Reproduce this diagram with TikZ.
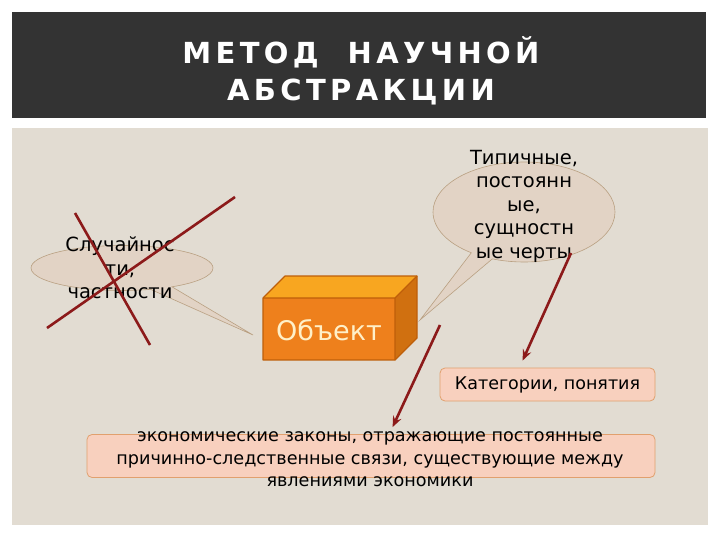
\documentclass[tikz,border=0pt]{standalone}
\usepackage{fontspec}
\setmainfont{DejaVu Sans}
\newfontfamily\titlefont{DejaVu Sans}[LetterSpace=15]
\usepackage{tikz}
\usetikzlibrary{arrows.meta,shapes.callouts,calc}
\definecolor{headgray}{RGB}{51,51,51}
\definecolor{panelbeige}{RGB}{226,220,210}
\definecolor{bubblefill}{RGB}{226,211,197}
\definecolor{bubbleline}{RGB}{185,160,130}
\definecolor{crossred}{RGB}{140,26,26}
\definecolor{boxfront}{RGB}{238,128,28}
\definecolor{boxtop}{RGB}{248,166,32}
\definecolor{boxside}{RGB}{208,112,16}
\definecolor{boxline}{RGB}{190,95,10}
\definecolor{objtext}{RGB}{255,240,200}
\definecolor{notefill}{RGB}{248,208,190}
\definecolor{noteline}{RGB}{225,160,110}
\tikzset{
  headbox/.style={
    fill=headgray,
    text=white,
    align=center,
    inner sep=0pt,
    font=\titlefont\bfseries\fontsize{29}{36.5}\selectfont
  },
  bubble/.style={
    ellipse callout,
    draw=bubbleline,
    fill=bubblefill,
    line width=0.6pt,
    inner sep=0pt
  },
  bubbletext/.style={
    align=center,
    inner sep=0pt,
    font=\fontsize{19.5}{23.5}\selectfont
  },
  notebox/.style={
    draw=noteline,
    fill=notefill,
    rounded corners=5pt,
    line width=0.8pt,
    inner sep=0pt
  },
  redarrow/.style={
    -{Stealth[length=11pt,width=9pt,inset=4pt]},
    line width=2.6pt,
    draw=crossred
  },
  strike/.style={
    line width=2.6pt,
    draw=crossred
  },
  facedraw/.style={
    draw=boxline,
    line width=1.2pt,
    line join=round
  }
}

\begin{document}
\begin{tikzpicture}[x=1pt,y=-1pt]
  \useasboundingbox (0,0) rectangle (720,540);
  \node[headbox, minimum width=694pt, minimum height=106pt] (head) at (359,65) {};
  \node[headbox, fill=none] (title) at (361,71) {МЕТОД\ \ НАУЧНОЙ\\АБСТРАКЦИИ};
  \node[fill=panelbeige, minimum width=696pt, minimum height=397pt, inner sep=0pt] (panel) at (360,326.5) {};

  \node[bubble, minimum width=182pt, minimum height=45pt, callout absolute pointer={(253,335)}] (chance) at (122,268) {};
  \node[bubbletext] (chancetext) at (120,268) {Случайнос\\ти,\\частности};
  \node[bubble, minimum width=182pt, minimum height=100pt, callout absolute pointer={(420,320)}] (typical) at (524,212) {};
  \node[bubbletext] (typicaltext) at (524,206) {Типичные,\\постоянн\\ые,\\сущностн\\ые черты};

  \draw[strike] (235,197) -- (47,328);
  \draw[strike] (75,213) -- (150,345);

  \fill[boxtop] (263,298) -- (285,276) -- (417,276) -- (395,298) -- cycle;
  \fill[boxside] (395,298) -- (417,276) -- (417,338) -- (395,360) -- cycle;
  \fill[boxfront] (263,298) rectangle (395,360);
  \draw[facedraw] (263,298) -- (285,276) -- (417,276) -- (417,338) -- (395,360) -- (263,360) -- cycle;
  \draw[facedraw] (263,298) -- (395,298) -- (417,276) (395,298) -- (395,360);
  \node[text=objtext, font=\fontsize{27}{30}\selectfont] (obj) at (329,330) {Объект};

  \node[notebox, minimum width=215pt, minimum height=33pt, font=\fontsize{17.5}{19}\selectfont] (cat) at (547.5,384.5) {Категории, понятия};
  \node[notebox, minimum width=568pt, minimum height=43pt] (laws) at (371,456) {};
  \node[align=center, inner sep=0pt, font=\fontsize{17.6}{22.5}\selectfont] (lawstext) at (370,459.5) {экономические законы, отражающие постоянные\\причинно-следственные связи, существующие между\\явлениями экономики};

  \coordinate (a1) at (571,253);
  \coordinate (a2) at (440,325);
  \draw[redarrow] (a1) -- ($(cat.north west)+(83,-7)$);
  \draw[redarrow] (a2) -- ($(laws.north west)+(306,-7)$);
\end{tikzpicture}
\end{document}
